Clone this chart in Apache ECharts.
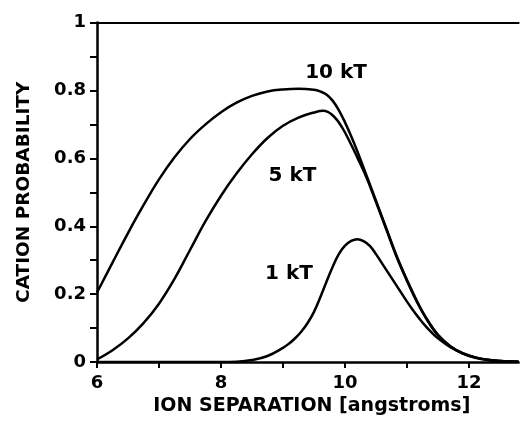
<!DOCTYPE html>
<html>
<head>
<meta charset="utf-8">
<script src="https://cdn.jsdelivr.net/npm/echarts@6/dist/echarts.min.js"></script>
<style>
html,body{margin:0;padding:0;background:#fff;}
#chart{width:520px;height:421px;}
</style>
</head>
<body>
<div id="chart"></div>
<script>
// Data
const x10 = [6.0,6.25,6.5,6.75,7.0,7.25,7.5,7.75,8.0,8.25,8.5,8.75,9.0,9.25,9.5,9.6,9.7,9.8,9.9,10.0,10.1,10.2,10.35,10.5,10.67,10.83,11.0,11.16,11.32,11.5,11.7,11.9,12.1,12.3,12.5,12.8];
const y10 = [0.205,0.293,0.38,0.462,0.538,0.603,0.657,0.70,0.736,0.764,0.784,0.797,0.803,0.805,0.802,0.797,0.788,0.77,0.742,0.706,0.665,0.62,0.548,0.475,0.392,0.314,0.242,0.18,0.127,0.08,0.047,0.026,0.014,0.007,0.003,0.001];

const x5 = [6.0,6.25,6.5,6.75,7.0,7.25,7.5,7.75,8.0,8.25,8.5,8.75,9.0,9.25,9.5,9.65,9.8,9.95,10.1,10.2,10.35,10.5,10.67,10.83,11.0,11.16,11.32,11.5,11.7,11.9,12.1,12.3,12.5,12.8];
const y5 = [0.008,0.035,0.07,0.115,0.172,0.245,0.33,0.415,0.49,0.555,0.612,0.66,0.696,0.72,0.735,0.74,0.727,0.692,0.64,0.602,0.542,0.471,0.389,0.311,0.239,0.177,0.125,0.079,0.046,0.025,0.013,0.006,0.003,0.001];

const x1 = [6.0,7.0,8.0,8.25,8.5,8.75,9.0,9.1,9.2,9.3,9.4,9.5,9.6,9.7,9.8,9.9,10.0,10.1,10.2,10.3,10.4,10.5,10.6,10.7,10.8,10.9,11.0,11.1,11.2,11.3,11.4,11.5,11.7,11.9,12.1,12.3,12.5,12.8];
const y1 = [0.0,0.0,0.0,0.001,0.006,0.018,0.042,0.055,0.071,0.091,0.116,0.148,0.19,0.236,0.28,0.318,0.343,0.357,0.362,0.356,0.342,0.318,0.29,0.262,0.234,0.206,0.178,0.152,0.128,0.106,0.087,0.07,0.044,0.026,0.014,0.007,0.003,0.001];

const curveNames = ['10 kT','5 kT','1 kT'];
const labelX = [9.855, 9.153, 9.097];
const labelY = [0.851, 0.548, 0.261];

const xTickLabels = ['6','8','10','12'];
const yTickLabels = ['0','0.2','0.4','0.6','0.8','1'];

const zip = (xs, ys) => xs.map((x, i) => [x, ys[i]]);

const chart = echarts.init(document.getElementById('chart'), null, {renderer: 'canvas'});
const font = 'DejaVu Sans';
const lineStyle = {color: '#000', width: 2.5};

chart.setOption({
  backgroundColor: '#fff',
  animation: false,
  grid: {left: 97, right: 1.4, top: 22.5, bottom: 57, containLabel: false},
  xAxis: [{
    type: 'value', min: 6, max: 12.8, interval: 1,
    name: 'ION SEPARATION [angstroms]', nameLocation: 'middle', nameGap: 27,
    nameTextStyle: {fontFamily: font, fontWeight: 'bold', fontSize: 19, color: '#000', padding: [0,0,0,8]},
    axisLine: {show: true, onZero: false, lineStyle: {color: '#000', width: 2.5}},
    axisTick: {show: true, inside: false, length: 6, lineStyle: {color: '#000', width: 2}},
    axisLabel: {
      show: true, margin: 12, fontFamily: font, fontWeight: 'bold', fontSize: 18, color: '#000',
      showMaxLabel: false,
      formatter: v => { const s = String(Math.round(v)); return (Math.abs(v - Math.round(v)) < 1e-6 && xTickLabels.includes(s)) ? s : ''; }
    },
    splitLine: {show: false}
  }, {
    type: 'value', position: 'top', min: 6, max: 12.8,
    axisLine: {show: true, onZero: false, lineStyle: {color: '#000', width: 2}},
    axisTick: {show: false}, axisLabel: {show: false}, splitLine: {show: false}
  }],
  yAxis: {
    type: 'value', min: 0, max: 1, interval: 0.1,
    name: 'CATION PROBABILITY', nameLocation: 'middle', nameGap: 63,
    nameTextStyle: {fontFamily: font, fontWeight: 'bold', fontSize: 18.5, color: '#000'},
    axisLine: {show: true, onZero: false, lineStyle: {color: '#000', width: 2.5}},
    axisTick: {show: true, inside: false, length: 7, lineStyle: {color: '#000', width: 2}},
    axisLabel: {
      show: true, margin: 11, fontFamily: font, fontWeight: 'bold', fontSize: 18, color: '#000',
      formatter: v => { const s = String(Math.round(v * 10) / 10); return yTickLabels.includes(s) ? s : ''; }
    },
    splitLine: {show: false}
  },
  series: [
    {name: curveNames[0], type: 'line', data: zip(x10, y10), smooth: 0.4, showSymbol: false, lineStyle: lineStyle, z: 3},
    {name: curveNames[1], type: 'line', data: zip(x5, y5), smooth: 0.4, showSymbol: false, lineStyle: lineStyle, z: 3},
    {name: curveNames[2], type: 'line', data: zip(x1, y1), smooth: 0.4, showSymbol: false, lineStyle: lineStyle, z: 3},
    {
      name: 'labels', type: 'scatter', symbolSize: 0,
      itemStyle: {opacity: 1},
      data: curveNames.map((n, i) => [labelX[i], labelY[i], n]),
      label: {show: true, position: 'inside', formatter: p => p.value[2],
        fontFamily: font, fontWeight: 'bold', fontSize: 20, color: '#000', opacity: 1},
      z: 5
    }
  ]
});
</script>
</body>
</html>
